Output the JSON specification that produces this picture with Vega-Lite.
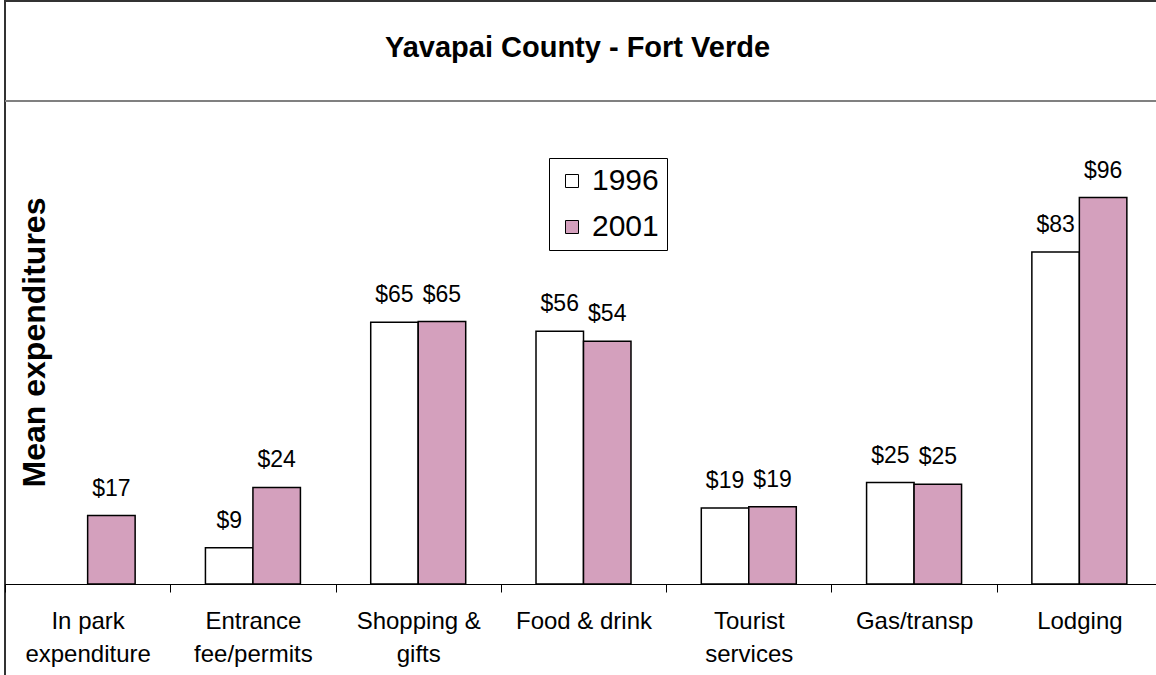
{
  "$schema": "https://vega.github.io/schema/vega-lite/v6.json",
  "width": 1157,
  "height": 675,
  "autosize": "none",
  "padding": {"left": 5, "top": 1, "right": 0, "bottom": 0},
  "background": "white",
  "title": {"text": "Yavapai County - Fort Verde", "fontSize": 29, "fontWeight": "bold", "font": "Liberation Sans", "color": "black", "anchor": "middle", "offset": -85, "baseline": "alphabetic", "frame": "group", "dx": -6},
  "config": {"view": {"stroke": "#333333", "strokeWidth": 2}, "font": "Liberation Sans"},
  "data": {"values": [
    {"category": "In park|expenditure", "year": "2001", "value": 17, "label": "$17"},
    {"category": "Entrance|fee/permits", "year": "1996", "value": 9, "label": "$9"},
    {"category": "Entrance|fee/permits", "year": "2001", "value": 24, "label": "$24"},
    {"category": "Shopping &|gifts", "year": "1996", "value": 65, "label": "$65"},
    {"category": "Shopping &|gifts", "year": "2001", "value": 65.2, "label": "$65"},
    {"category": "Food & drink", "year": "1996", "value": 62.8, "label": "$56"},
    {"category": "Food & drink", "year": "2001", "value": 60.3, "label": "$54"},
    {"category": "Tourist|services", "year": "1996", "value": 18.9, "label": "$19"},
    {"category": "Tourist|services", "year": "2001", "value": 19.2, "label": "$19"},
    {"category": "Gas/transp", "year": "1996", "value": 25.2, "label": "$25"},
    {"category": "Gas/transp", "year": "2001", "value": 24.8, "label": "$25"},
    {"category": "Lodging", "year": "1996", "value": 82.5, "label": "$83"},
    {"category": "Lodging", "year": "2001", "value": 96, "label": "$96"}
  ]},
  "layer": [
    {
      "mark": {"type": "rule", "stroke": "#808080", "strokeWidth": 2},
      "encoding": {
        "y": {"datum": 120, "type": "quantitative", "title": "Mean expenditures", "scale": {"domain": [-22.86, 144.84], "nice": false, "zero": false}}
      }
    },
    {
      "mark": {"type": "bar", "stroke": "black", "strokeWidth": 1.5},
      "encoding": {
        "x": {"field": "category", "type": "nominal", "sort": ["In park|expenditure", "Entrance|fee/permits", "Shopping &|gifts", "Food & drink", "Tourist|services", "Gas/transp", "Lodging"], "scale": {"paddingInner": 0, "paddingOuter": 0},
          "axis": {"title": null, "orient": "bottom", "offset": -92, "domainColor": "black", "domainWidth": 1, "tickColor": "black", "tickSize": 8, "tickBand": "extent", "labelAngle": 0, "labelFontSize": 24, "labelColor": "black", "labelLineHeight": 33, "labelPadding": 17, "labelBaseline": "top", "labelExpr": "isValid(datum.value) ? split(datum.value, '|') : ''", "labelFont": "Liberation Sans", "labelLimit": 0}},
        "xOffset": {"field": "year", "type": "nominal", "scale": {"domain": ["1996", "2001"], "paddingInner": 0, "paddingOuter": 0.74}},
        "y": {"field": "value", "type": "quantitative", "title": "Mean expenditures", "scale": {"domain": [-22.86, 144.84], "nice": false, "zero": false},
          "axis": {"labels": false, "ticks": false, "domain": false, "grid": false, "titleFontSize": 32, "titleFontWeight": "bold", "titleColor": "black", "titleFont": "Liberation Sans", "titleAngle": -90, "titleX": 29, "titleY": 341, "titleAlign": "center", "titleBaseline": "middle"}},
        "y2": {"datum": 0},
        "color": {"field": "year", "type": "nominal", "scale": {"domain": ["1996", "2001"], "range": ["#ffffff", "#d4a0bd"]},
          "legend": {"orient": "none", "legendX": 544, "legendY": 157, "title": null, "labelFontSize": 30, "labelColor": "black", "labelFont": "Liberation Sans", "symbolType": "square", "symbolSize": 169, "symbolStrokeColor": "black", "symbolStrokeWidth": 1, "strokeColor": "black", "padding": 8, "rowPadding": 16, "labelOffset": 5, "symbolOffset": 0, "fillColor": "white"}}
      }
    },
    {
      "mark": {"type": "text", "dy": -20, "baseline": "alphabetic", "fontSize": 23, "color": "black", "font": "Liberation Sans"},
      "encoding": {
        "x": {"field": "category", "type": "nominal", "sort": ["In park|expenditure", "Entrance|fee/permits", "Shopping &|gifts", "Food & drink", "Tourist|services", "Gas/transp", "Lodging"]},
        "xOffset": {"field": "year", "type": "nominal"},
        "y": {"field": "value", "type": "quantitative", "title": "Mean expenditures"},
        "text": {"field": "label"}
      }
    }
  ]
}
